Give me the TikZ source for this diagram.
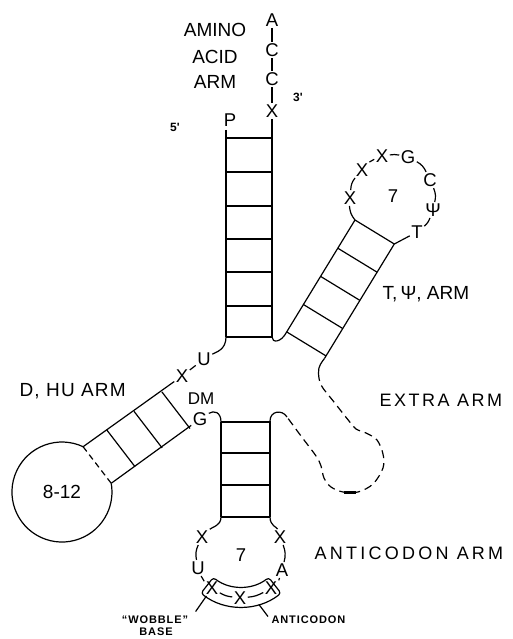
\documentclass[tikz,border=0pt]{standalone}
\usepackage{fontspec}
\newfontfamily\lab{Liberation Sans}
\newfontfamily\labsp[LetterSpace=14]{Liberation Sans}
\newfontfamily\labspw[LetterSpace=18]{Liberation Sans}
\newfontfamily\labsq[LetterSpace=6]{Liberation Sans}
\newfontfamily\labsm[LetterSpace=8]{Liberation Sans}
\usetikzlibrary{calc}
\begin{document}
\begin{tikzpicture}[x=1pt,y=1pt,line width=1.2pt,
  nt/.style={font=\lab\fontsize{18.5}{18.5}\selectfont, inner sep=1pt},
  big/.style={font=\lab\fontsize{19}{19}\selectfont, inner sep=0pt},
  spaced/.style={font=\labsp\fontsize{18}{18}\selectfont, inner sep=0pt, anchor=west},
  small/.style={font=\labsm\bfseries\fontsize{11}{11}\selectfont, inner sep=0pt},
  dsh/.style={dash pattern=on 8pt off 5pt},
  ]
\useasboundingbox (0,0) rectangle (512,-639);

% ---------- acceptor (amino acid) arm ----------
\node[nt] (A1) at (272,-20) {A};
\node[nt] (C1) at (272,-50) {C};
\node[nt] (C2) at (272,-79) {C};
\node[nt] (X1) at (272,-111) {X};
\draw (A1) -- (C1);
\draw (C1) -- (C2);
\draw (C2) -- (X1);
\node[nt] (P) at (230,-120) {P};
\coordinate (aL0) at (226,-130);
\coordinate (aL7) at (226,-337);
\coordinate (aR7) at (272,-337);
\draw (aL0) -- (aL7);
\draw (X1) -- (aR7);
\foreach \yy in {138,172,206,239,272,306,337} \draw (226,-\yy) -- (272,-\yy);
\node[big] (amino) at (215,-30) {AMINO};
\node[big] (acid) at (215,-57) {ACID};
\node[big] (arma) at (215,-82) {ARM};
\node[font=\lab\bfseries\fontsize{12}{12}\selectfont, inner sep=0pt] (p3) at (298,-97) {3'};
\node[font=\lab\bfseries\fontsize{12}{12}\selectfont, inner sep=0pt] (p5) at (175,-127) {5'};

% ---------- junction ----------
\node[nt] (U1) at (204,-359) {U};
\node[nt] (Xd) at (182,-376) {X};
\draw (aL7) .. controls (226,-350) and (216,-352) .. (U1);
\draw (U1) -- (Xd);

% ---------- T, Psi arm ----------
\coordinate (tL0) at (355,-220);
\coordinate (tL1) at (337.8,-248.2);
\coordinate (tL2) at (320.6,-276.4);
\coordinate (tL3) at (303.4,-304.5);
\coordinate (tL4) at (286.7,-331.9);
\coordinate (tR0) at (394.3,-244);
\coordinate (tR1) at (377.1,-272.2);
\coordinate (tR2) at (359.9,-300.4);
\coordinate (tR3) at (342.7,-328.5);
\coordinate (tR4) at (326.0,-355.9);
\coordinate (tR5) at (324.5,-358.4);
\draw (tL0) -- (tL4);
\draw (tR0) -- (tR5);
\foreach \i in {0,...,4} \draw (tL\i) -- (tR\i);
\draw (aR7) .. controls (272,-343) and (281,-343) .. (tL4);

\node[nt] (Xt1) at (350,-198) {X};
\node[nt] (Xt2) at (362,-170) {X};
\node[nt] (Xt3) at (382,-156) {X};
\node[nt] (Gt) at (408,-157) {G};
\node[nt] (Ct) at (430,-180) {C};
\node[nt] (Pt) at (433,-210) {Ψ};
\node[nt] (Tt) at (417,-232) {T};
\node[nt] (t7) at (393,-196) {7};
\draw (tL0) to[bend left=17] (Xt1);
\draw (Xt1) to[bend left=18] (Xt2);
\draw (Xt2) to[bend left=12] (Xt3);
\draw (Xt3) to[bend left=10] (Gt);
\draw (Gt) to[bend left=18] (Ct);
\draw (Ct) to[bend left=18] (Pt);
\draw (Pt) to[bend left=15] (Tt);
\draw (tR0) -- (Tt);
\node[big, anchor=west] (tlbl) at (382,-294) {T,\,Ψ, ARM};

% ---------- extra arm ----------
\coordinate (ex0) at (318.5,-373);
\coordinate (ex1) at (287,-417);
\draw (tR5) .. controls (322,-362) and (318,-366) .. (ex0);
\draw[dsh] plot[smooth,tension=0.55] coordinates {(318.5,-373) (321,-385) (334,-402) (349,-421) (356,-429) (366,-433) (377,-440) (383,-454) (383,-468) (373,-484) (358,-492) (343,-492) (331,-487) (324,-478) (321,-466) (316,-456) (301,-436) (287,-417)};
\draw[line width=2.6pt] (344,-492.5) -- (356,-492.5);
\node[spaced] (exlbl) at (379,-400) {EXTRA ARM};

% ---------- D, HU arm ----------
\coordinate (dc) at (62,-492);
\coordinate (dU0) at (83.1,-446.7);
\coordinate (dL0) at (111.2,-483.3);
\coordinate (dU1) at (106.9,-430.1);
\coordinate (dL1) at (135.0,-466.7);
\coordinate (dU2) at (134.0,-411.3);
\coordinate (dL2) at (162.1,-447.9);
\coordinate (dU3) at (161.9,-391.9);
\coordinate (dL3) at (190.0,-428.5);
\node[nt] (G) at (200,-419) {G};
\node[font=\lab\fontsize{17}{17}\selectfont, inner sep=0pt] (DM) at (201,-399) {DM};
\draw (dU0) -- (Xd);
\draw (dL0) -- (G);
\foreach \i in {1,2,3} \draw (dU\i) -- (dL\i);
\draw[dash pattern=on 6pt off 4pt] (dU0) -- (dL0);
\draw (dU0) arc[start angle=65, end angle=370, radius=50];
\node[big] (dloop) at (dc) {8-12};
\node[font=\labsq\fontsize{19}{19}\selectfont, inner sep=0pt, anchor=west] (dlbl) at (19,-391) {D, HU ARM};

% ---------- anticodon arm ----------
\coordinate (acL0) at (221,-422);
\coordinate (acL3) at (221,-517);
\coordinate (acR0) at (270,-421);
\coordinate (acR3) at (270,-517);
\draw (acL0) -- (acL3);
\draw (acR0) -- (acR3);
\foreach \yy in {422,453,485,517} \draw (221,-\yy) -- (270,-\yy);
\draw (G) .. controls (214,-410) and (221,-412) .. (acL0);
\draw (acR0) .. controls (270,-411) and (282,-409) .. (ex1);

\node[nt] (Xa1) at (202,-537) {X};
\node[nt] (Ua) at (198,-568) {U};
\node[nt] (Xb1) at (212,-588) {X};
\node[nt] (Xb2) at (240,-598) {X};
\node[nt] (Xb3) at (271,-588) {X};
\node[nt] (Aa) at (282,-570) {A};
\node[nt] (Xa2) at (280,-537) {X};
\node[nt] (a7) at (241,-555) {7};
\draw (acL3) .. controls (221,-526) and (212,-527) .. (Xa1);
\draw (acR3) .. controls (270,-526) and (277,-527) .. (Xa2);
\draw (Xa1) to[bend right=18] (Ua);
\draw (Ua) to[bend right=14] (Xb1);
\draw (Xb1) to[bend right=12] (Xb2);
\draw (Xb2) to[bend right=12] (Xb3);
\draw (Xb3) to[bend right=14] (Aa);
\draw (Aa) to[bend right=18] (Xa2);

\coordinate (bc) at (241,-542);
\draw[rounded corners=3pt] ($(bc)+(-128:45)$) arc[start angle=-128,end angle=-52,radius=45]
   -- ($(bc)+(-52:65)$) arc[start angle=-52,end angle=-128,radius=65] -- cycle;

\node[font=\labspw\fontsize{18}{18}\selectfont, inner sep=0pt, anchor=west] (aclbl) at (314,-553) {ANTICODON ARM};

\node[small] (wob) at (155,-620) {“WOBBLE”};
\node[small] (wbase) at (156,-632) {BASE};
\draw ([shift={(7,4)}]wob.north east) -- (Xb1);
\node[small, anchor=west] (anti) at (271,-620) {ANTICODON};
\coordinate (antip) at ($(bc)+(-74:65)$);
\draw (antip) -- ([shift={(-3,-1)}]anti.north west);
\end{tikzpicture}
\end{document}
